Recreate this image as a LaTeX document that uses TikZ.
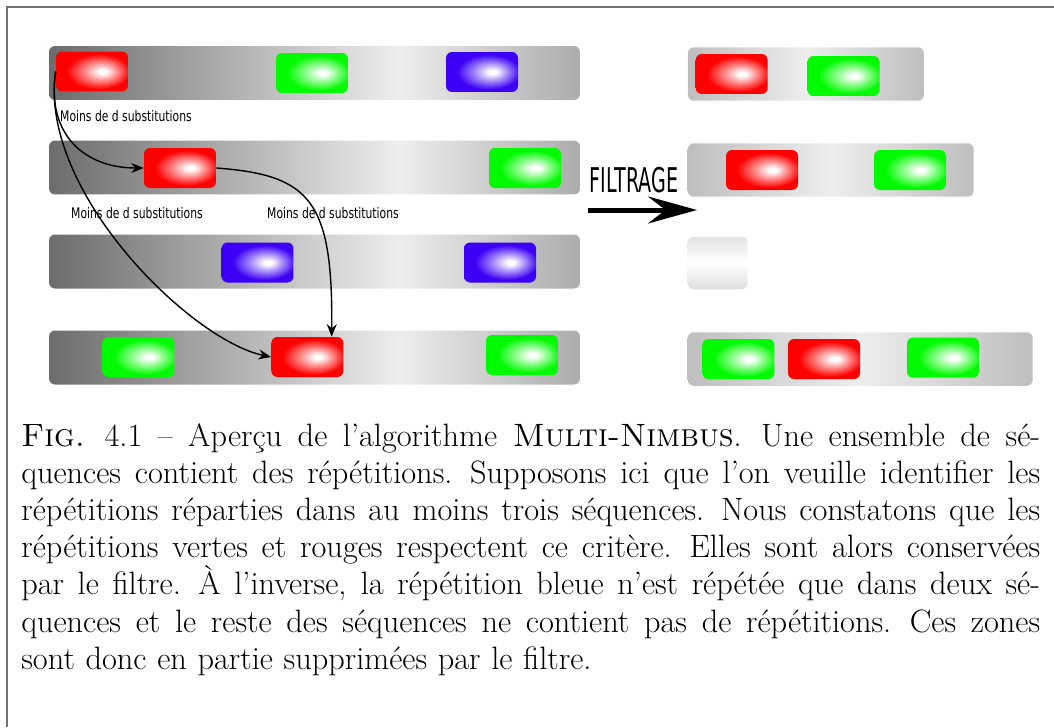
\documentclass[tikz,border=0pt]{standalone}
\usepackage{fontspec}
\usepackage{xcolor}
\usepackage{graphicx}
\usepackage{tikz}
\usetikzlibrary{arrows.meta}

\newfontfamily\labelfont{DejaVu Sans}
\newcommand{\squeeze}[2]{\scalebox{#1}[1]{#2}}

\definecolor{seqred}{RGB}{255,0,0}
\definecolor{seqgreen}{RGB}{0,250,0}
\definecolor{seqblue}{RGB}{60,0,245}
\definecolor{bardark}{RGB}{108,108,108}
\definecolor{barlight}{RGB}{238,238,238}
\definecolor{barend}{RGB}{172,172,172}
\definecolor{keptedge}{RGB}{190,190,190}

\pgfdeclareradialshading{redshade}{\pgfpoint{8bp}{0bp}}{color(0bp)=(white); color(2.5bp)=(white); color(11bp)=(seqred!45!white); color(22bp)=(seqred); color(50bp)=(seqred)}
\pgfdeclareradialshading{greenshade}{\pgfpoint{8bp}{0bp}}{color(0bp)=(white); color(2.5bp)=(white); color(11bp)=(seqgreen!45!white); color(22bp)=(seqgreen); color(50bp)=(seqgreen)}
\pgfdeclareradialshading{blueshade}{\pgfpoint{8bp}{0bp}}{color(0bp)=(white); color(2.5bp)=(white); color(11bp)=(seqblue!45!white); color(22bp)=(seqblue); color(50bp)=(seqblue)}
\pgfdeclarehorizontalshading{seqshade}{100bp}{color(0bp)=(bardark); color(25bp)=(bardark); color(58bp)=(barlight); color(75bp)=(barend); color(100bp)=(barend)}
\pgfdeclarehorizontalshading{keptshade}{100bp}{color(0bp)=(keptedge); color(25bp)=(keptedge); color(50bp)=(barlight); color(75bp)=(keptedge); color(100bp)=(keptedge)}

\tikzset{
  seq/.style={rounded corners=0.12cm, inner sep=0pt, minimum height=1.08cm, shading=seqshade},
  kept/.style={rounded corners=0.12cm, inner sep=0pt, minimum height=1.07cm, shading=keptshade},
  rep/.style={rounded corners=0.12cm, inner sep=0pt, minimum width=1.44cm, minimum height=0.8cm},
  redrep/.style={rep, shading=redshade},
  greenrep/.style={rep, shading=greenshade},
  bluerep/.style={rep, shading=blueshade},
  subst/.style={inner sep=0pt, font=\labelfont\fontsize{8.3}{10}\selectfont},
  link/.style={thick, -{Stealth[length=0.25cm, width=0.2cm]}}
}

\begin{document}
\begin{tikzpicture}[x=0.02cm, y=-0.02cm]
\useasboundingbox (0,0) rectangle (1054,727);
\draw[black!55, line width=0.03cm] (1054,7) -- (7,7) -- (7,727);

% sequences before filtering
\node[seq, minimum width=10.62cm] (seqA) at (314.5,73) {};
\node[seq, minimum width=10.62cm] (seqB) at (314.5,167.5) {};
\node[seq, minimum width=10.62cm] (seqC) at (314.5,261.5) {};
\node[seq, minimum width=10.62cm] (seqD) at (314.5,357.5) {};

\node[redrep] (redA) at (92,71.5) {};
\node[greenrep] (greenA) at (312,73) {};
\node[bluerep] (blueA) at (482,72) {};
\node[redrep] (redB) at (180,168) {};
\node[greenrep] (greenB) at (525,168) {};
\node[bluerep] (blueC) at (257.5,262.5) {};
\node[bluerep] (blueCC) at (500,262.5) {};
\node[greenrep] (greenD) at (138.5,357) {};
\node[redrep] (redD) at (307.4,357) {};
\node[greenrep] (greenDD) at (522,355) {};

\node[subst] (substA) at (126,116) {\squeeze{0.74}{Moins de d substitutions}};
\node[subst] (substB) at (137,213) {\squeeze{0.74}{Moins de d substitutions}};
\node[subst] (substC) at (333,213) {\squeeze{0.74}{Moins de d substitutions}};

\draw[link] (redA.west) .. controls (46,135) and (85,168) .. (redB.west);
\draw[link] (redA.west) .. controls (38,190) and (190,340) .. (redD.west);
\draw[link] (redB.east) .. controls (310,175) and (333,200) .. (redD.40);

% filter
\node[inner sep=0pt, font=\labelfont\fontsize{19.4}{22}\selectfont] (filtrage) at (634,180) {\squeeze{0.56}{FILTRAGE}};
\coordinate (filtin) at (588,210);
\coordinate (filtout) at (697,210);
\draw[line width=0.1cm, -{Stealth[length=0.98cm, width=0.54cm, inset=0.35cm]}] (filtin) -- (filtout);

% sequences after filtering
\node[kept, minimum width=4.72cm] (keptA) at (805.9,74) {};
\node[kept, minimum width=5.72cm] (keptB) at (830.7,170) {};
\node[rounded corners=0.12cm, inner sep=0pt, minimum width=1.2cm, minimum height=1.05cm, top color=black!11, bottom color=black!13, middle color=white] (keptC) at (717.7,263) {};
\node[kept, minimum width=6.9cm] (keptD) at (860.2,359) {};

\node[redrep] (redE) at (731.7,74) {};
\node[greenrep] (greenE) at (843.5,76) {};
\node[redrep] (redF) at (762,170) {};
\node[greenrep] (greenF) at (910,170) {};
\node[greenrep] (greenG) at (738.4,359) {};
\node[redrep] (redG) at (824,359) {};
\node[greenrep] (greenGG) at (943,357.7) {};

% caption
\node[anchor=base west, inner sep=0pt, text width=20.38cm, align=justify, font=\fontsize{18.4}{21.1}\selectfont] (caption) at (21,446.7) {%
\hyphenpenalty=10000 \parindent=0pt \rightskip=0pt \spaceskip=0.33em plus 0.6em minus 0.1em \xspaceskip=0.45em plus 0.6em minus 0.1em
\textsc{Fig.} 4.1 -- Aperçu de l'algorithme \textsc{Multi-Nimbus}. Une ensemble de sé-\linebreak
quences contient des répétitions. Supposons ici que l'on veuille identifier les\linebreak
répétitions réparties dans au moins trois séquences. Nous constatons que les\linebreak
répétitions vertes et rouges respectent ce critère. Elles sont alors conservées\linebreak
par le filtre. À l'inverse, la répétition bleue n'est répétée que dans deux sé-\linebreak
quences et le reste des séquences ne contient pas de répétitions. Ces zones\linebreak
sont donc en partie supprimées par le filtre.};
\end{tikzpicture}
\end{document}
